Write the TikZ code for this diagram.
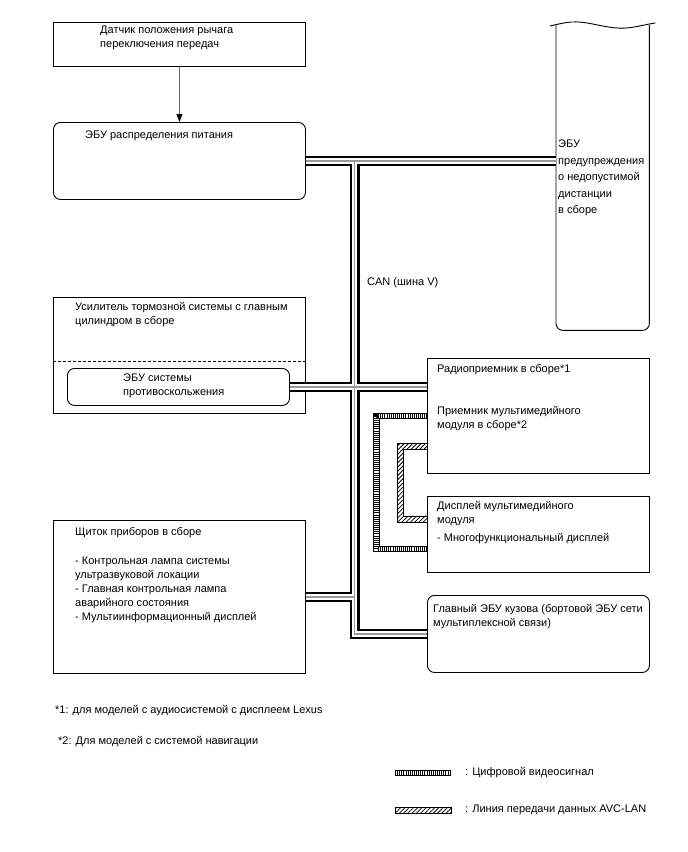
\documentclass[tikz,border=0pt]{standalone}
\usepackage{fontspec}
\setmainfont{Liberation Sans}
\usetikzlibrary{arrows.meta, positioning, calc, patterns.meta}

\begin{document}
\begin{tikzpicture}[
    x=1pt, y=-1pt,
    box/.style={rectangle, draw, line width=0.9pt, inner sep=0pt, anchor=north west},
    rbox/.style={box, rounded corners=7pt},
    txt/.style={inner sep=0pt, anchor=north west, align=left, font=\fontsize{11}{14}\selectfont},
    arrow/.style={-{Triangle[length=8pt, width=6pt, color=black]}, draw=black!60, line width=0.9pt},
    can/.style={draw=black!40, line width=1.6pt, preaction={draw=black, line width=10pt}, preaction={draw=white, line width=5.6pt}},
    video/.style={line width=4.4pt, dash pattern=on 0.6pt off 1.5pt, preaction={draw, solid, line width=6.2pt}, preaction={draw=white, solid, line width=4.4pt}},
    avc/.style={draw, line width=0.8pt, pattern={Lines[angle=45, distance=3pt, line width=0.8pt]}}
]
\useasboundingbox (0,0) rectangle (688,852);

% blocks
\node[box, minimum width=252pt, minimum height=44pt] (sensor) at (53,22) {};
\node[rbox, minimum width=252pt, minimum height=77pt] (power) at (53,122) {};
\node[inner sep=0pt, minimum width=93pt, minimum height=305pt, anchor=north west] (warn) at (556,25) {};
\node[box, minimum width=252pt, minimum height=116pt] (brake) at (53,297) {};
\node[rbox, minimum width=222pt, minimum height=37pt] (abs) at (67,368) {};
\node[box, minimum width=252pt, minimum height=153pt] (cluster) at (53,520) {};
\node[box, minimum width=222pt, minimum height=115pt] (radio) at (427,358) {};
\node[box, minimum width=222pt, minimum height=76pt] (display) at (427,496) {};
\node[rbox, minimum width=222pt, minimum height=77pt] (main) at (427,595) {};

% torn top of the warning ECU
\draw[line width=0.9pt, rounded corners=7pt] (warn.north west) -- (warn.south west) -- (warn.south east) -- (warn.north east);
\draw[line width=0.9pt] ($(warn.north west)+(-6,1)$) .. controls +(25,-6) and +(-25,-5) .. ($(warn.north)+(0,1)$) .. controls +(25,5) and +(-20,3) .. ($(warn.north east)+(6,-2)$);
\draw[line width=0.9pt, dash pattern=on 3pt off 2pt] ($(brake.north west)+(0,64)$) -- ($(brake.north east)+(0,64)$);

% labels
\node[txt, below right=4pt and 47pt of sensor.north west] (sensortxt) {Датчик положения рычага\\переключения передач};
\node[txt, below right=9pt and 32pt of power.north west] (powertxt) {ЭБУ распределения питания};
\node[txt, below right=115pt and 2pt of warn.north west, font=\fontsize{11}{16.5}\selectfont] (warntxt) {ЭБУ\\предупреждения\\о недопустимой\\дистанции\\в сборе};
\node[txt, below right=5pt and 22pt of brake.north west] (braketxt) {Усилитель тормозной системы с главным\\цилиндром в сборе};
\node[txt, below right=6pt and 56pt of abs.north west] (abstxt) {ЭБУ системы\\противоскольжения};
\node[txt, below right=7pt and 22pt of cluster.north west] (clustertxt) {Щиток приборов в сборе\\[15pt]- Контрольная лампа системы\\ультразвуковой локации\\- Главная контрольная лампа\\аварийного состояния\\- Мультиинформационный дисплей};
\node[txt, below right=6pt and 10pt of radio.north west] (radiotxt) {Радиоприемник в сборе*1\\[28pt]Приемник мультимедийного\\модуля в сборе*2};
\node[txt, below right=5pt and 10pt of display.north west] (displaytxt) {Дисплей мультимедийного\\модуля\\[4pt]- Многофункциональный дисплей};
\node[txt, below right=9pt and 6pt of main.north west] (maintxt) {Главный ЭБУ кузова (бортовой ЭБУ сети\\мультиплексной связи)};
\node[txt, anchor=west] (canlbl) at (367,283) {CAN (шина V)};

% connections
\draw[arrow] (sensor) -- (power);
\coordinate (canx) at (354.5,0);
\draw[can] (power.east) -- (power.east -| warn.west)
    (power.east -| canx) |- (main.west)
    (abs.east) -- (abs.east -| radio.west)
    (cluster.east) -- (cluster.east -| canx);
\draw[video] (radio.west) -| ($(display.south west)+(-50.5,-24)$) -- ($(display.south west)+(0,-24)$);
\coordinate (avcA) at ($(radio.west)+(0,30.5)$);
\coordinate (avcB) at ($(display.west)+(0,-15.5)$);
\draw[avc] ($(avcA)+(0,-3)$) -| ($(avcB)+(-30,3)$) -- ($(avcB)+(0,3)$) -- ($(avcB)+(0,-3)$) -| ($(avcA)+(-24,3)$) -- ($(avcA)+(0,3)$) -- cycle;

% notes and key
\node[txt, anchor=west] (note1) at (55,711) {*1: для моделей с аудиосистемой с дисплеем Lexus};
\node[txt, anchor=west] (note2) at (58,742) {*2: Для моделей с системой навигации};
\node[txt, anchor=west] (vidkey) at (465,773) {: Цифровой видеосигнал};
\node[txt, anchor=west] (avckey) at (465,810) {: Линия передачи данных AVC-LAN};
\draw[video] ($(vidkey.west)+(-70,0)$) -- ($(vidkey.west)+(-14,0)$);
\draw[avc] ($(avckey.west)+(-70,-3)$) rectangle ($(avckey.west)+(-14,3)$);

\end{tikzpicture}
\end{document}
